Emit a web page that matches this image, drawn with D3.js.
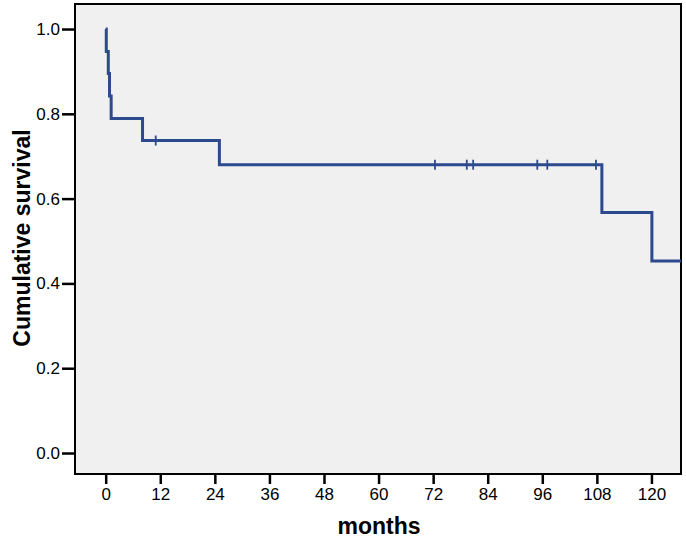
<!DOCTYPE html>
<html>
<head>
<meta charset="utf-8">
<script src="https://cdn.jsdelivr.net/npm/d3@7"></script>
<style>
  body { margin: 0; background: #fff; }
  text { font-family: "Liberation Sans", Arial, sans-serif; }
</style>
</head>
<body>
<div id="chart"></div>
<script>
// Kaplan-Meier step points (months, cumulative survival)
var stepTimes = [0, 0.13, 0.57, 0.84, 1.2, 8.1, 25, 109.1, 120.1];
var stepSurv = [1.0, 0.947, 0.895, 0.842, 0.789, 0.737, 0.680, 0.567, 0.453];
// censored observations
var censorTimes = [11, 72.4, 79.4, 80.8, 94.9, 97.1, 107.8];
var censorSurv = [0.737, 0.680, 0.680, 0.680, 0.680, 0.680, 0.680];
var xTicks = [0, 12, 24, 36, 48, 60, 72, 84, 96, 108, 120];
var yTicks = [0.0, 0.2, 0.4, 0.6, 0.8, 1.0];
var xMax = 126.5;

var svgWidth = 686, svgHeight = 540;
var plot = { left: 75, right: 681, top: 4, bottom: 474 };

var svg = d3.select("#chart").append("svg")
  .attr("width", svgWidth)
  .attr("height", svgHeight);

var x = d3.scaleLinear().domain([-6.75, xMax]).range([plot.left, plot.right]);
var y = d3.scaleLinear().domain([-0.0495, 1.059]).range([plot.bottom, plot.top]);

// plot background + frame
svg.append("rect")
  .attr("x", plot.left).attr("y", plot.top)
  .attr("width", plot.right - plot.left).attr("height", plot.bottom - plot.top)
  .attr("fill", "#f0f0f0")
  .attr("stroke", "#000")
  .attr("stroke-width", 2);

// axes
var leftAxis = d3.axisLeft(y).tickValues(yTicks).tickFormat(d3.format(".1f"))
  .tickSize(13).tickPadding(2).tickSizeOuter(0);
var bottomAxis = d3.axisBottom(x).tickValues(xTicks)
  .tickSize(10).tickPadding(4).tickSizeOuter(0);

var gy = svg.append("g").attr("transform", `translate(${plot.left},0)`).call(leftAxis);
var gx = svg.append("g").attr("transform", `translate(0,${plot.bottom})`).call(bottomAxis);

[gx, gy].forEach(function(g) {
  g.select(".domain").remove();
  g.selectAll(".tick line").attr("stroke", "#000").attr("stroke-width", 2.5);
  g.selectAll(".tick text").attr("fill", "#000").style("font-size", "17px")
    .style("font-family", "'Liberation Sans', Arial, sans-serif");
});

// survival curve
var pts = stepTimes.map(function(t, i) { return [t, stepSurv[i]]; });
pts.push([xMax, stepSurv[stepSurv.length - 1]]);

var line = d3.line()
  .x(d => x(d[0]))
  .y(d => y(d[1]))
  .curve(d3.curveStepAfter);

svg.append("path")
  .datum(pts)
  .attr("d", line)
  .attr("fill", "none")
  .attr("stroke", "#2d4a8e")
  .attr("stroke-width", 3);

// censor marks
svg.selectAll("line.censor")
  .data(censorTimes)
  .enter()
  .append("line")
  .classed("censor", true)
  .attr("x1", d => x(d)).attr("x2", d => x(d))
  .attr("y1", (d, i) => y(censorSurv[i]) - 5)
  .attr("y2", (d, i) => y(censorSurv[i]) + 5)
  .attr("stroke", "#2d4a8e")
  .attr("stroke-width", 1.8);

// axis titles
svg.append("text")
  .attr("x", 379).attr("y", 534)
  .attr("text-anchor", "middle")
  .style("font-size", "23px").style("font-weight", "bold")
  .text("months");

svg.append("text")
  .attr("transform", "translate(30,238) rotate(-90)")
  .attr("text-anchor", "middle")
  .style("font-size", "23px").style("font-weight", "bold")
  .text("Cumulative survival");
</script>
</body>
</html>
